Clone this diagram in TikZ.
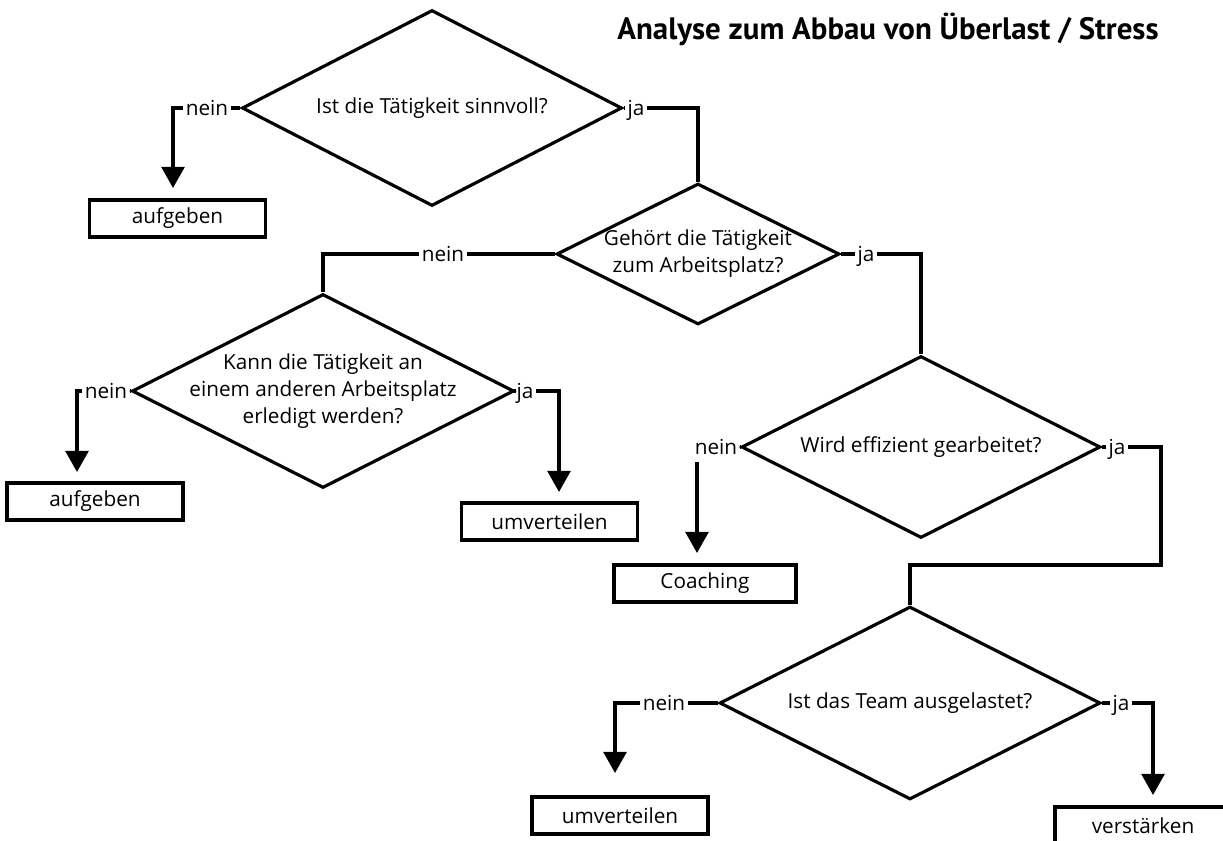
\documentclass[tikz,border=0pt]{standalone}
\usepackage{fontspec}
\setmainfont{Open Sans}
\newfontfamily\titlefont{PT Sans}
\usetikzlibrary{shapes.geometric,arrows.meta}
\begin{document}
\begin{tikzpicture}[x=0.02cm,y=-0.02cm,
  dia/.style={draw,diamond,line width=1.8pt,inner sep=0pt},
  box/.style={draw,rectangle,line width=1.8pt,minimum width=3.52cm,minimum height=0.74cm,inner sep=0pt,font=\fontsize{11.8}{14}\selectfont},
  qtext/.style={align=center,font=\fontsize{11.8}{15.4}\selectfont},
  lab/.style={inner sep=1.5pt,text height=1.5ex,text depth=0pt,font=\fontsize{11.8}{14}\selectfont},
  con/.style={line width=1.8pt},
  arr/.style={con,-{Triangle[width=13pt,length=12pt]}}
]
\useasboundingbox (0,0) rectangle (1223,841);
\clip (0,0) rectangle (1223,841);

% title
\node[anchor=base west,inner sep=0pt,font=\titlefont\bfseries\fontsize{17.6}{20}\selectfont] (title) at (617,40) {Analyse zum Abbau von Überlast / Stress};

% diamonds
\node[dia,minimum width=7.6cm,minimum height=3.92cm] (d1) at (432,108) {};
\node[qtext] (q1) at (d1) {Ist die Tätigkeit sinnvoll?};
\node[dia,minimum width=5.66cm,minimum height=2.82cm] (d2) at (698,254) {};
\node[qtext] (q2) at (d2) {Gehört die Tätigkeit\\zum Arbeitsplatz?};
\node[dia,minimum width=7.64cm,minimum height=3.88cm] (d3) at (323,391) {};
\node[qtext] (q3) at (d3) {Kann die Tätigkeit an\\einem anderen Arbeitsplatz\\erledigt werden?};
\node[dia,minimum width=7.18cm,minimum height=3.64cm] (d4) at (921,447) {};
\node[qtext] (q4) at (d4) {Wird effizient gearbeitet?};
\node[dia,minimum width=7.62cm,minimum height=3.86cm] (d5) at (910,703) {};
\node[qtext] (q5) at (d5) {Ist das Team ausgelastet?};

% result boxes
\node[box] (b1) at (177.5,218.5) {aufgeben};
\node[box] (b2) at (95,501.5) {aufgeben};
\node[box] (b3) at (549.5,521.5) {umverteilen};
\node[box,minimum width=3.64cm] (b4) at (705,583.5) {Coaching};
\node[box] (b5) at (620,815.5) {umverteilen};
\node[box] (b6) at (1143,825.5) {verstärken};

% labels
\node[lab] (l1n) at (207,108) {nein};
\node[lab] (l1j) at (636,108) {ja};
\node[lab] (l2n) at (443,254) {nein};
\node[lab] (l2j) at (866,254) {ja};
\node[lab] (l3n) at (106,391) {nein};
\node[lab] (l3j) at (525,391) {ja};
\node[lab] (l4n) at (716,447) {nein};
\node[lab] (l4j) at (1117,447) {ja};
\node[lab] (l5n) at (664,703) {nein};
\node[lab] (l5j) at (1121,703) {ja};

% arrow end points and corners
\coordinate (t1) at (173,188);
\coordinate (t3n) at (77,472);
\coordinate (t3j) at (559,492);
\coordinate (s4n) at (697,462);
\coordinate (t4n) at (697,553);
\coordinate (c4) at (1161,565);
\coordinate (t5n) at (615,773);
\coordinate (t5j) at (1153,795);

% connectors
\draw[con] (d1.west) -- (l1n.east);
\draw[arr] (l1n.west) -| (t1);
\draw[con] (d1.east) -- (l1j.west);
\draw[con] (l1j.east) -| (d2.north);

\draw[con] (d2.west) -- (l2n.east);
\draw[con] (l2n.west) -| (d3.north);
\draw[con] (d2.east) -- (l2j.west);
\draw[con] (l2j.east) -| (d4.north);

\draw[con] (d3.west) -- (l3n.east);
\draw[arr] (l3n.west) -| (t3n);
\draw[con] (d3.east) -- (l3j.west);
\draw[arr] (l3j.east) -| (t3j);

\draw[con] (d4.west) -- (l4n.east);
\draw[arr] (s4n) -- (t4n);
\draw[con] (d4.east) -- (l4j.west);
\draw[con] (l4j.east) -| (c4) -| (d5.north);

\draw[con] (d5.west) -- (l5n.east);
\draw[arr] (l5n.west) -| (t5n);
\draw[con] (d5.east) -- (l5j.west);
\draw[arr] (l5j.east) -| (t5j);
\end{tikzpicture}
\end{document}
